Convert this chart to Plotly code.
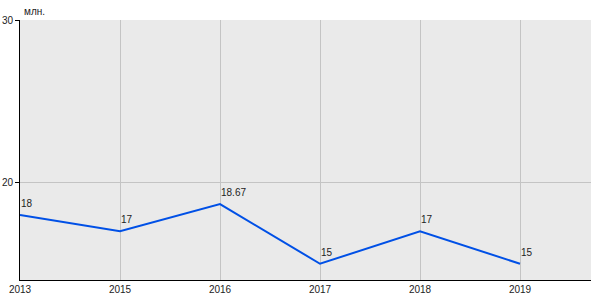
import plotly.graph_objects as go

years = ["2013", "2015", "2016", "2017", "2018", "2019"]
values = [18, 17, 18.67, 15, 17, 15]
labels = ["18", "17", "18.67", "15", "17", "15"]
y_ticks = [20, 30]
unit = "млн."

idx = list(range(len(years)))
FONT = dict(family="Liberation Sans, Arial", size=10, color="#222")

fig = go.Figure()
fig.add_trace(go.Scatter(
    x=idx, y=values, mode="lines",
    line=dict(color="#0050e6", width=2),
    cliponaxis=False, hoverinfo="skip",
))

annotations = [dict(
    text=t, x=xi, y=yi, xref="x", yref="y",
    xanchor="left", yanchor="bottom", showarrow=False,
    xshift=-1, yshift=4, font=FONT,
) for xi, yi, t in zip(idx, values, labels)]
annotations.append(dict(
    text=unit, xref="paper", yref="paper", x=0, y=1,
    xanchor="left", yanchor="bottom", showarrow=False, xshift=2, yshift=1,
    font=FONT,
))

fig.update_layout(
    width=600, height=300,
    margin=dict(l=20, r=9, t=20, b=20),
    paper_bgcolor="white", plot_bgcolor="#eaeaea",
    showlegend=False,
    font=FONT,
    xaxis=dict(
        range=[0, 5.71], tickmode="array", tickvals=idx, ticktext=years,
        showgrid=True, gridcolor="#c4c4c4", gridwidth=1,
        showline=True, linecolor="black", linewidth=1,
        ticks="", zeroline=False, fixedrange=True, automargin=False,
    ),
    yaxis=dict(
        range=[14, 30], tickmode="array", tickvals=y_ticks,
        showgrid=True, gridcolor="#c4c4c4", gridwidth=1,
        showline=True, linecolor="black", linewidth=1,
        ticks="outside", ticklen=4, tickcolor="black",
        zeroline=False, fixedrange=True, automargin=False,
    ),
    annotations=annotations,
)

fig.write_html("out.html")
